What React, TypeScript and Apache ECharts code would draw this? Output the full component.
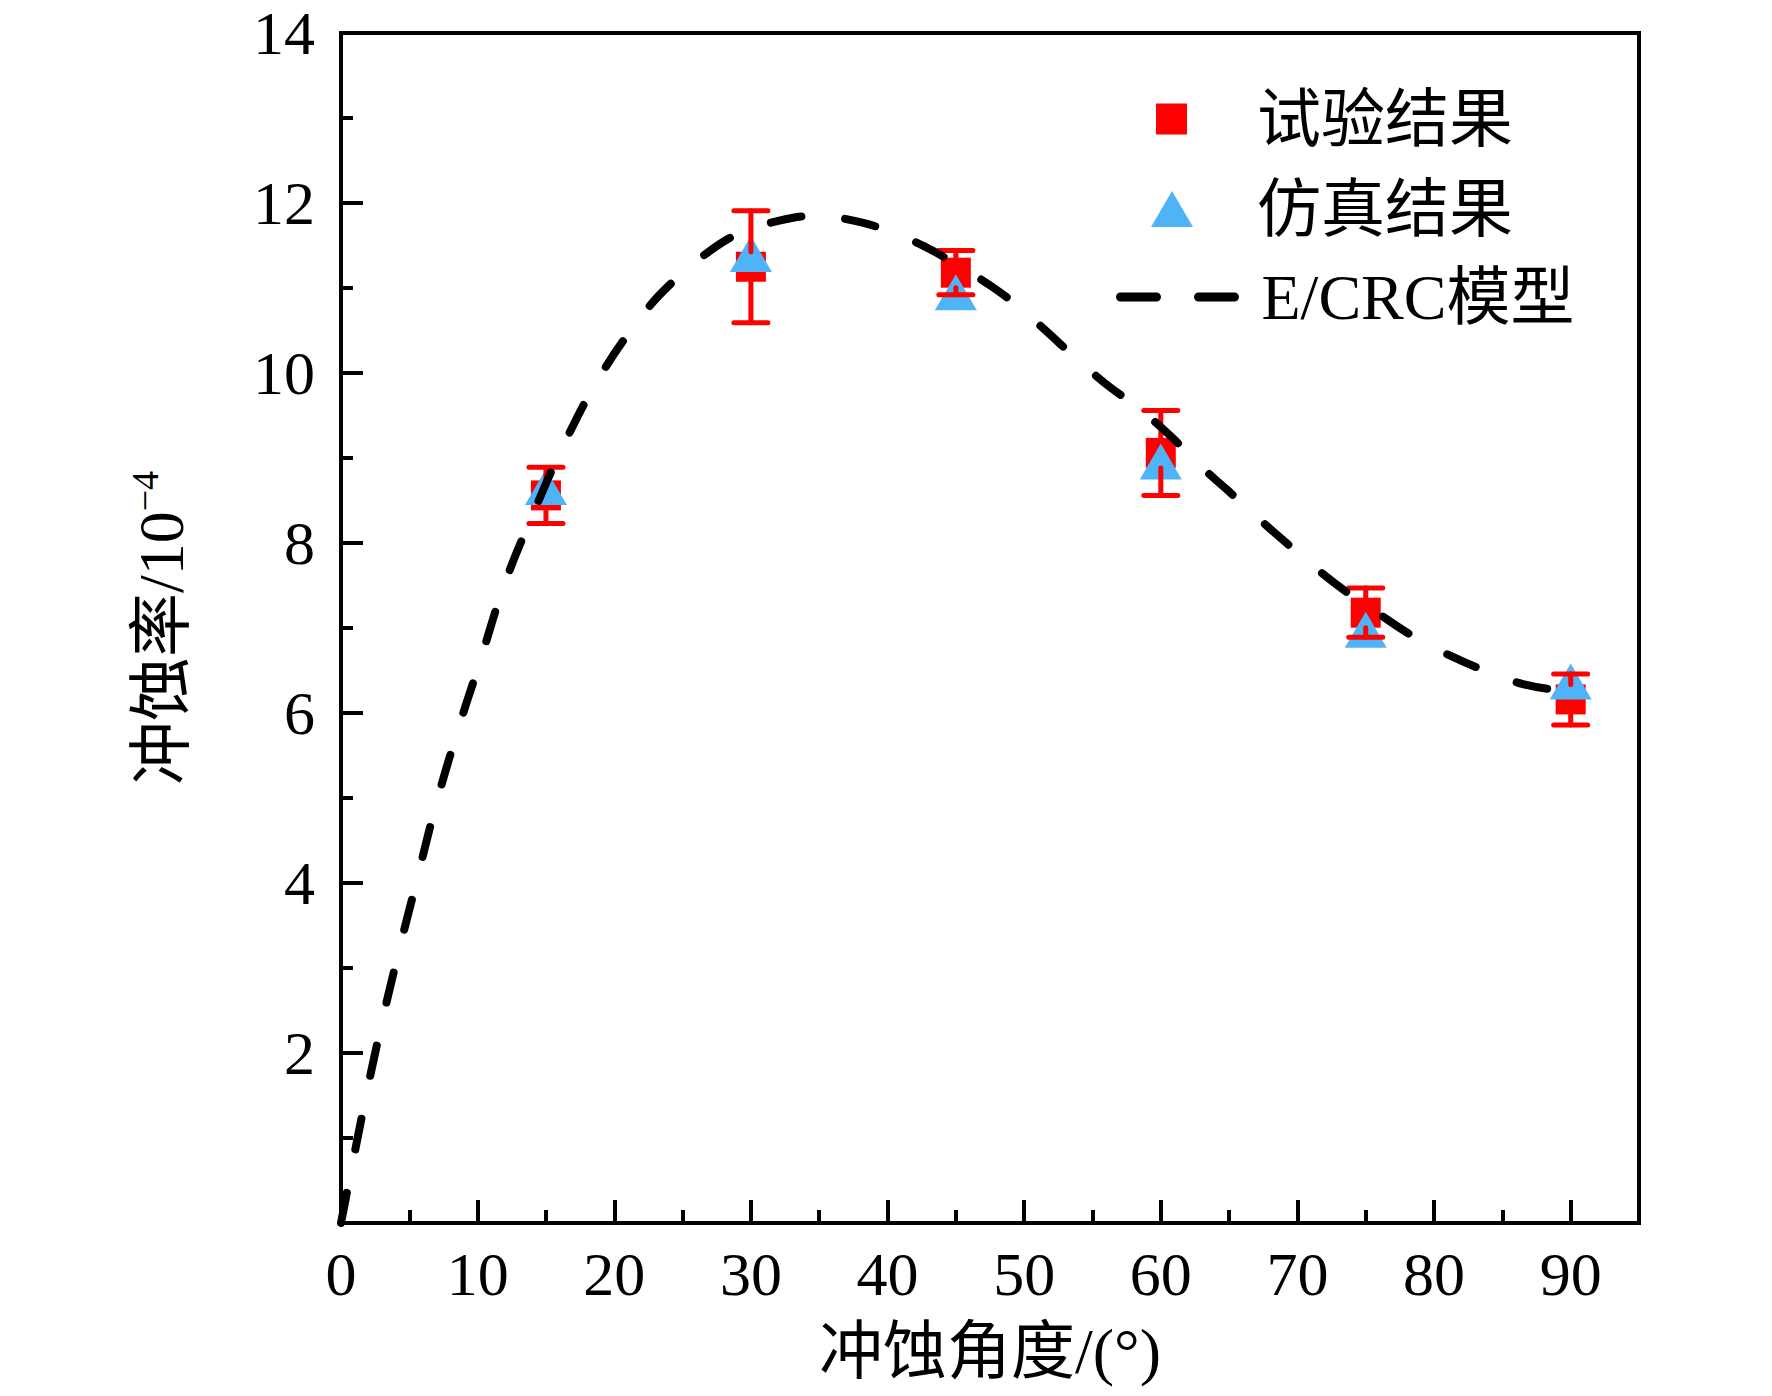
import { useEffect, useRef } from 'react';
import * as echarts from 'echarts';

// erosion angle (deg) of the tests / simulations
const angles = [15, 30, 45, 60, 75, 90];
// 试验结果 (mean and half error bar), 10^-4
const testValues = [8.56, 11.25, 11.18, 9.06, 7.18, 6.16];
const testErrors = [0.33, 0.66, 0.26, 0.5, 0.29, 0.3];
// 仿真结果
const simValues = [8.66, 11.4, 10.95, 8.96, 6.98, 6.37];
// E/CRC model curve
const modelAngles = [
  0, 1.6, 2.8, 4.1, 5.5, 6.9, 8.5, 10.2, 12.0, 14.1, 16.4, 19.1, 22.3, 24.2,
  26.6, 29.1, 32.0, 34.7, 37.6, 40.1, 42.7, 45.1, 47.6, 49.8, 55.6, 58.5, 60.9,
  62.8, 64.9, 67.0, 69.2, 71.3, 73.7, 76.1, 78.6, 81.1, 83.7, 86.5, 89.4, 90,
];
const modelValues = [
  0, 1.31, 2.22, 3.11, 4.0, 4.89, 5.77, 6.62, 7.53, 8.36, 9.19, 10.0, 10.73,
  11.06, 11.39, 11.64, 11.79, 11.85, 11.79, 11.67, 11.49, 11.27, 11.02, 10.75,
  9.92, 9.57, 9.23, 8.92, 8.62, 8.31, 8.0, 7.71, 7.41, 7.15, 6.89, 6.68, 6.5,
  6.34, 6.26, 6.25,
];

const seriesNames = ['试验结果', '仿真结果', 'E/CRC模型'];

const FONT = '"Liberation Serif", "Times New Roman", "Noto Sans CJK SC", serif';
const RED = '#ff0000';
const BLUE = '#4fb4f7';
const SQUARE = 30;

const renderErrorBar = (_params: any, api: any) => {
  const x = api.value(0);
  const v = api.value(1);
  const e = api.value(2);
  const mid = api.coord([x, v]);
  const hi = api.coord([x, v + e]);
  const lo = api.coord([x, v - e]);
  const half = SQUARE / 2;
  const cap = 17;
  const style = { stroke: RED, lineWidth: 5, lineCap: 'round' };
  return {
    type: 'group',
    children: [
      { type: 'line', shape: { x1: mid[0], y1: hi[1], x2: mid[0], y2: mid[1] - half }, style },
      { type: 'line', shape: { x1: mid[0], y1: mid[1] + half, x2: mid[0], y2: lo[1] }, style },
      { type: 'line', shape: { x1: mid[0] - cap, y1: hi[1], x2: mid[0] + cap, y2: hi[1] }, style },
      { type: 'line', shape: { x1: mid[0] - cap, y1: lo[1], x2: mid[0] + cap, y2: lo[1] }, style },
    ],
  };
};

const legendText = (padLeft: number) => ({
  fontFamily: FONT,
  fontSize: 64,
  lineHeight: 70,
  color: '#000',
  padding: [0, 0, 0, padLeft],
});

const App = () => {
  const ref = useRef<HTMLDivElement>(null);

  useEffect(() => {
    if (!ref.current) return;
    const chart = echarts.init(ref.current, null, { renderer: 'svg' });

    const axisLine = { lineStyle: { color: '#000', width: 4 } };
    const labelStyle = { fontFamily: FONT, fontSize: 62, color: '#000' };

    chart.setOption({
      animation: false,
      backgroundColor: '#fff',
      grid: {
        left: 341,
        right: 133,
        top: 33,
        bottom: 173,
        show: true,
        borderColor: '#000',
        borderWidth: 4,
      },
      legend: [
        {
          data: [{ name: seriesNames[0], icon: 'rect' }],
          left: 1156,
          top: 84,
          padding: 0,
          itemWidth: 31,
          itemHeight: 31,
          selectedMode: false,
          textStyle: legendText(65),
        },
        {
          data: [{ name: seriesNames[1], icon: 'triangle' }],
          left: 1151,
          top: 174,
          padding: 0,
          itemWidth: 42,
          itemHeight: 36,
          selectedMode: false,
          textStyle: legendText(59),
        },
        {
          data: [
            {
              name: seriesNames[2],
              itemStyle: { opacity: 0 },
              lineStyle: { type: [36, 42], width: 9, cap: 'round', color: '#000' },
            },
          ],
          left: 1116,
          top: 262,
          padding: 0,
          itemWidth: 114,
          itemHeight: 10,
          selectedMode: false,
          textStyle: legendText(22),
        },
      ],
      xAxis: [
        {
          type: 'value',
          min: 0,
          max: 95,
          interval: 10,
          position: 'bottom',
          name: '冲蚀角度/(°)',
          nameLocation: 'middle',
          nameGap: 96,
          nameTextStyle: { fontFamily: FONT, fontSize: 64, color: '#000' },
          axisLine,
          axisTick: { inside: true, length: 23, lineStyle: { color: '#000', width: 4 } },
          axisLabel: { ...labelStyle, margin: 20, showMaxLabel: false },
          splitLine: { show: false },
        },
        {
          // short ticks every 5 degrees
          type: 'value',
          min: 0,
          max: 95,
          interval: 5,
          position: 'bottom',
          axisLine: { show: false },
          axisTick: { inside: true, length: 13, lineStyle: { color: '#000', width: 4 } },
          axisLabel: { show: false },
          splitLine: { show: false },
        },
      ],
      yAxis: {
        type: 'value',
        min: 0,
        max: 14,
        interval: 2,
        name: '{t|冲蚀率/10}{s|−4}',
        nameLocation: 'middle',
        nameGap: 145,
        nameTextStyle: {
          fontFamily: FONT,
          color: '#000',
          rich: {
            t: { fontFamily: FONT, fontSize: 64, lineHeight: 70, color: '#000' },
            s: {
              fontFamily: FONT,
              fontSize: 38,
              lineHeight: 38,
              color: '#000',
              verticalAlign: 'top',
            },
          },
        },
        axisLine,
        axisTick: { inside: true, length: 22, lineStyle: { color: '#000', width: 4 } },
        minorTick: {
          show: true,
          splitNumber: 2,
          length: 12,
          lineStyle: { color: '#000', width: 4 },
        },
        axisLabel: { ...labelStyle, margin: 26, showMinLabel: false },
        splitLine: { show: false },
      },
      series: [
        {
          name: seriesNames[0],
          type: 'scatter',
          symbol: 'rect',
          symbolSize: SQUARE,
          itemStyle: { color: RED, opacity: 1 },
          z: 2,
          data: angles.map((a, i) => [a, testValues[i]]),
        },
        {
          name: seriesNames[1],
          type: 'scatter',
          symbol: 'triangle',
          symbolSize: [42, 36],
          itemStyle: { color: BLUE, opacity: 1 },
          z: 3,
          data: angles.map((a, i) => [a, simValues[i]]),
        },
        {
          name: 'error',
          type: 'custom',
          renderItem: renderErrorBar,
          encode: { x: 0, y: 1 },
          z: 4,
          data: angles.map((a, i) => [a, testValues[i], testErrors[i]]),
        },
        {
          name: seriesNames[2],
          type: 'line',
          smooth: 0.4,
          symbol: 'none',
          lineStyle: { color: '#000', width: 8, type: [31, 44], cap: 'round' },
          itemStyle: { color: '#000' },
          z: 5,
          data: modelAngles.map((a, i) => [a, modelValues[i]]),
        },
      ],
    });

    return () => {
      chart.dispose();
    };
  }, []);

  return (
    <div
      ref={ref}
      style={{ position: 'absolute', left: 0, top: 0, width: 1772, height: 1396 }}
    />
  );
};

export default App;
